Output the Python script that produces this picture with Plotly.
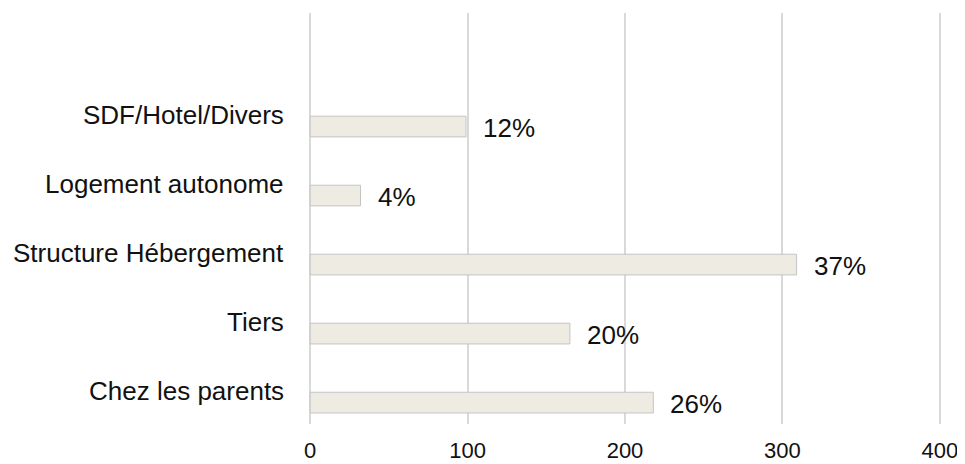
import plotly.graph_objects as go

# Data (top to bottom as displayed)
categories = ["SDF/Hotel/Divers", "Logement autonome", "Structure Hébergement", "Tiers", "Chez les parents"]
values = [99, 32, 309, 165, 218]
pct_labels = ["12%", "4%", "37%", "20%", "26%"]
x_ticks = [0, 100, 200, 300, 400]

FONT = "Liberation Sans, Arial, sans-serif"

fig = go.Figure()
fig.add_trace(go.Bar(
    y=categories, x=values, orientation="h", width=0.3,
    marker=dict(color="#EDEBE2", line=dict(color="#C4C4C4", width=1)),
    hoverinfo="skip", showlegend=False,
))

annotations = []
for cat, v, p in zip(categories, values, pct_labels):
    annotations.append(dict(
        x=0, xref="x", y=cat, yref="y", text=cat, showarrow=False,
        xanchor="right", yanchor="middle", xshift=-24, yshift=11.5,
        font=dict(family=FONT, size=26, color="#111111"),
    ))
    annotations.append(dict(
        x=v, xref="x", y=cat, yref="y", text=p, showarrow=False,
        xanchor="left", yanchor="middle", xshift=15, yshift=-1,
        font=dict(family=FONT, size=26, color="#111111"),
    ))

fig.update_layout(
    width=957, height=456,
    margin=dict(l=299, r=22, t=5, b=40),
    paper_bgcolor="white", plot_bgcolor="white",
    font=dict(family=FONT, color="#111111"),
    annotations=annotations,
    xaxis=dict(
        range=[-2, 402], tickvals=x_ticks, ticktext=[str(t) for t in x_ticks],
        showgrid=True, gridcolor="#D9D9D9", gridwidth=2,
        zeroline=False, showline=False, ticks="", automargin=False,
        tickfont=dict(family=FONT, size=22, color="#111111"),
        ticklabelstandoff=11,
    ),
    yaxis=dict(
        type="category", categoryorder="array", categoryarray=categories[::-1],
        range=[-0.31, 5.645], showticklabels=False, showgrid=False,
        zeroline=False, showline=False, ticks="", automargin=False,
    ),
)

fig.write_html("out.html")
